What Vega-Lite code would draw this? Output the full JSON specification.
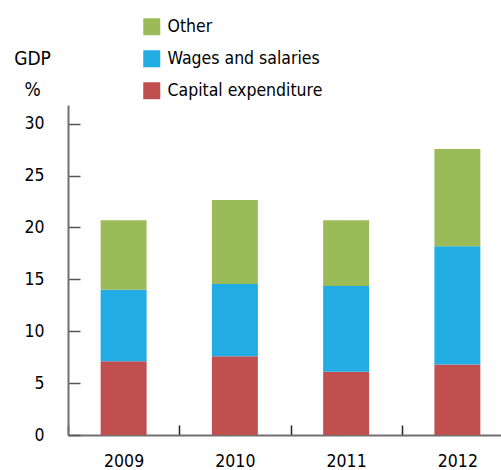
{
  "$schema": "https://vega.github.io/schema/vega-lite/v6.json",
  "autosize": {"type": "none"},
  "padding": {"left": 68, "top": 105, "right": 0, "bottom": 35},
  "width": 433,
  "height": 330,
  "background": "white",
  "config": {
    "font": "DejaVu Sans Condensed, DejaVu Sans, sans-serif",
    "view": {"stroke": null}
  },
  "data": {
    "values": [
      {"year": "2009", "category": "Capital expenditure", "rank": 1, "value": 7.1},
      {"year": "2009", "category": "Wages and salaries", "rank": 2, "value": 6.9},
      {"year": "2009", "category": "Other", "rank": 3, "value": 6.7},
      {"year": "2010", "category": "Capital expenditure", "rank": 1, "value": 7.6},
      {"year": "2010", "category": "Wages and salaries", "rank": 2, "value": 6.95},
      {"year": "2010", "category": "Other", "rank": 3, "value": 8.1},
      {"year": "2011", "category": "Capital expenditure", "rank": 1, "value": 6.1},
      {"year": "2011", "category": "Wages and salaries", "rank": 2, "value": 8.25},
      {"year": "2011", "category": "Other", "rank": 3, "value": 6.35},
      {"year": "2012", "category": "Capital expenditure", "rank": 1, "value": 6.8},
      {"year": "2012", "category": "Wages and salaries", "rank": 2, "value": 11.4},
      {"year": "2012", "category": "Other", "rank": 3, "value": 9.35}
    ]
  },
  "mark": {"type": "bar", "width": {"band": 0.413}},
  "encoding": {
    "x": {
      "field": "year",
      "type": "nominal",
      "scale": {"range": [0, 445], "paddingInner": 0, "paddingOuter": 0},
      "axis": {
        "title": null,
        "labelAngle": 0,
        "labelFontSize": 17.5,
        "labelColor": "#000000",
        "labelPadding": 27,
        "tickBand": "extent",
        "tickSize": -10,
        "tickColor": "#222222",
        "tickWidth": 1.5,
        "domainColor": "#707070",
        "domainWidth": 2
      }
    },
    "y": {
      "field": "value",
      "type": "quantitative",
      "stack": "zero",
      "scale": {"domain": [0, 31.8], "nice": false},
      "axis": {
        "values": [0, 5, 10, 15, 20, 25, 30],
        "grid": false,
        "title": ["GDP", "%"],
        "titleAngle": 0,
        "titleAlign": "center",
        "titleBaseline": "alphabetic",
        "titleX": -36,
        "titleY": -41,
        "titleFontSize": 19,
        "titleFontWeight": "normal",
        "titleColor": "#000000",
        "titleLineHeight": 31,
        "labelFontSize": 17.5,
        "labelColor": "#000000",
        "labelPadding": 36,
        "tickSize": -12,
        "tickColor": "#555555",
        "tickWidth": 1.5,
        "domainColor": "#707070",
        "domainWidth": 2
      }
    },
    "order": {"field": "rank", "type": "quantitative", "sort": "ascending"},
    "color": {
      "field": "category",
      "type": "nominal",
      "scale": {
        "domain": ["Other", "Wages and salaries", "Capital expenditure"],
        "range": ["#9BBB59", "#21ACE3", "#C0504F"]
      },
      "legend": {
        "title": null,
        "orient": "none",
        "legendX": 75,
        "legendY": -87,
        "symbolType": "square",
        "symbolSize": 289,
        "symbolStrokeWidth": 0,
        "symbolOpacity": 1,
        "labelFontSize": 17.5,
        "labelColor": "#000000",
        "labelOffset": 7,
        "rowPadding": 13,
        "labelLimit": 300
      }
    }
  }
}
